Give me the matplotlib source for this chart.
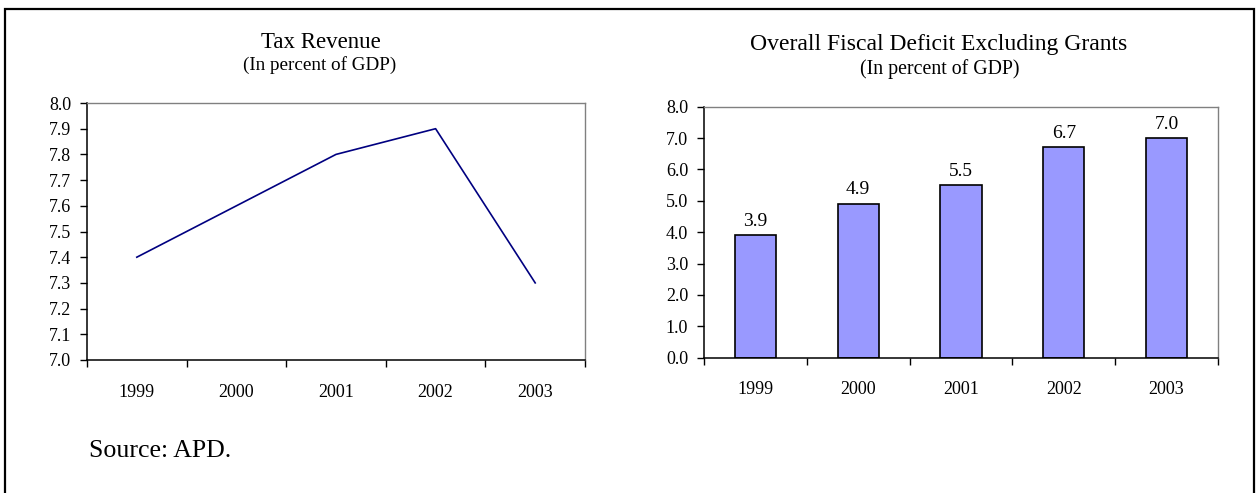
import numpy as np
import matplotlib
matplotlib.use("Agg")
import matplotlib.pyplot as plt
from matplotlib.patches import Rectangle

plt.rcParams['font.family'] = ['Liberation Serif', 'DejaVu Serif']

# data
years = ['1999', '2000', '2001', '2002', '2003']
tax_revenue = [7.4, 7.6, 7.8, 7.9, 7.3]
fiscal_deficit = [3.9, 4.9, 5.5, 6.7, 7.0]

W, H = 1257, 493
fig = plt.figure(figsize=(W / 100, H / 100), dpi=100)
fig.patch.set_facecolor('white')


def px(x, y):
    # pixel coords (top-left origin) -> figure fraction
    return x / W, 1 - y / H


def style_axes(ax):
    for s in ['top', 'right']:
        ax.spines[s].set_color('#808080')
        ax.spines[s].set_linewidth(1.0)
    for s in ['left', 'bottom']:
        ax.spines[s].set_color('black')
        ax.spines[s].set_linewidth(1.1)
    ax.tick_params(axis='y', direction='out', length=5, width=1.0,
                   labelsize=13, pad=6.5, colors='black')
    ax.tick_params(axis='x', which='major', length=0, labelsize=13, pad=17)
    ax.tick_params(axis='x', which='minor', direction='out', length=5, width=1.0)
    ax.set_xlim(-0.5, len(years) - 0.5)
    ax.set_xticks(np.arange(len(years)))
    ax.set_xticklabels(years)
    ax.set_xticks(np.arange(len(years) + 1) - 0.5, minor=True)


# --- left: tax revenue line ---
x0, y0 = px(87, 360)
x1, y1 = px(585, 103)
ax1 = fig.add_axes([x0, y0, x1 - x0, y1 - y0])
ax1.plot(np.arange(len(years)), tax_revenue, color='#000080', linewidth=1.2)
ax1.set_ylim(7.0, 8.0)
ax1.set_yticks(np.arange(7.0, 8.01, 0.1))
ax1.set_yticklabels([f'{v:.1f}' for v in np.arange(7.0, 8.01, 0.1)])
style_axes(ax1)

# --- right: deficit bars ---
x0, y0 = px(704, 357.7)
x1, y1 = px(1218, 106.7)
ax2 = fig.add_axes([x0, y0, x1 - x0, y1 - y0])
bars = ax2.bar(np.arange(len(years)), fiscal_deficit, width=0.4,
               color='#9999FF', edgecolor='black', linewidth=1.2, zorder=2)
for b, v in zip(bars, fiscal_deficit):
    ax2.annotate(f'{v:.1f}', (b.get_x() + b.get_width() / 2, v),
                 xytext=(0, 4), textcoords='offset points',
                 ha='center', va='bottom', fontsize=14)
ax2.set_ylim(0, 8.0)
ax2.set_yticks(np.arange(0, 8.01, 1.0))
ax2.set_yticklabels([f'{v:.1f}' for v in np.arange(0, 8.01, 1.0)])
style_axes(ax2)

# titles
fig.text(*px(321, 47.7), 'Tax Revenue', ha='center', va='baseline', fontsize=16.5)
fig.text(*px(320, 69.5), '(In percent of GDP)', ha='center', va='baseline', fontsize=13.8)
fig.text(*px(939, 50), 'Overall Fiscal Deficit Excluding Grants', ha='center',
         va='baseline', fontsize=17)
fig.text(*px(940, 74), '(In percent of GDP)', ha='center', va='baseline', fontsize=14.3)

fig.text(*px(89, 457), 'Source: APD.', ha='left', va='baseline', fontsize=18.6)

# outer frame
bx, by = px(5, 520)
bx2, by2 = px(1254, 9)
fig.patches.append(Rectangle((bx, by), bx2 - bx, by2 - by, transform=fig.transFigure,
                             fill=False, edgecolor='black', linewidth=1.6,
                             clip_on=False))

fig.savefig('out.png', dpi=100)
